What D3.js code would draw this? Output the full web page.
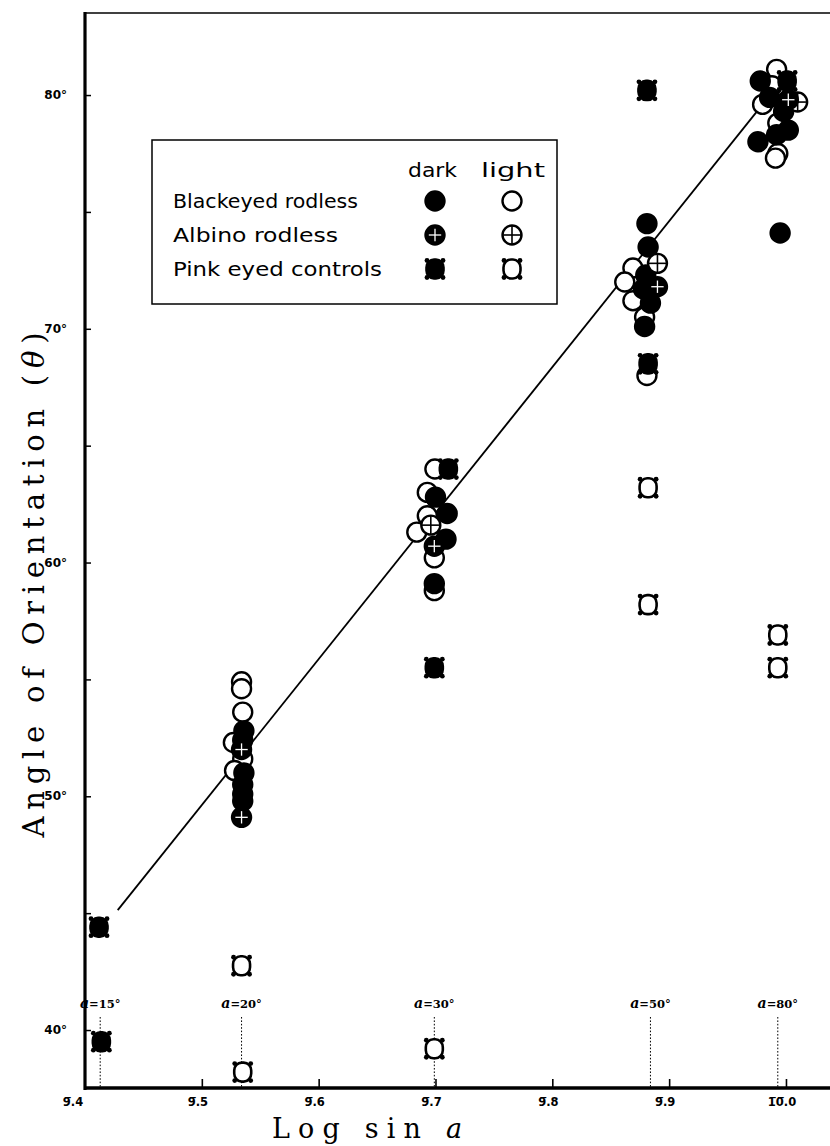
<!DOCTYPE html>
<html><head><meta charset="utf-8">
<script src="https://cdn.jsdelivr.net/npm/d3@7"></script>
<style>body{margin:0;background:#fff}</style>
</head><body>
<svg id="c" width="830" height="1146"></svg>
<script>
// ---------- data ----------
const xTicks = [9.4, 9.5, 9.6, 9.7, 9.8, 9.9, 10.0];
const xTickLabels = ["9\u0305.4", "9\u0305.5", "9\u0305.6", "9\u0305.7", "9\u0305.8", "9\u0305.9", "1\u03050\u0305.0"];
const yMajor = [40, 50, 60, 70, 80];
const yMajorLabels = ["40°", "50°", "60°", "70°", "80°"];
const yMinor = [45, 55, 65, 75];
const angleMarks = [9.413, 9.534, 9.699, 9.884, 9.993];
const angleLabels = ["15°", "20°", "30°", "50°", "80°"];
const fitLine = [[9.428, 45.13], [9.980, 79.6]];

// Blackeyed rodless
const blackDark = [[9.536,52.8],[9.535,52.4],[9.536,51.0],[9.535,50.5],[9.535,50.1],[9.535,49.8],
  [9.700,62.8],[9.710,62.1],[9.709,61.0],[9.699,59.1],
  [9.881,74.5],[9.882,73.5],[9.880,72.3],[9.878,71.7],[9.884,71.1],[9.879,70.1],
  [9.978,80.6],[9.986,79.9],[9.998,79.3],[10.002,78.5],[9.976,78.0],[9.992,78.3],[9.995,74.1]];
const blackLight = [[9.534,54.9],[9.534,54.6],[9.535,53.6],[9.527,52.3],[9.535,51.6],[9.528,51.1],
  [9.6995,64.0],[9.693,63.0],[9.693,62.0],[9.684,61.3],[9.699,60.2],[9.699,58.8],
  [9.869,72.6],[9.862,72.0],[9.869,71.2],[9.879,70.5],[9.881,68.0],
  [9.992,81.1],[9.988,80.4],[9.980,79.6],[9.993,78.8],[9.993,77.5],[9.991,77.3]];
// Albino rodless
const albinoDark = [[9.534,52.0],[9.534,49.1],[9.699,60.7],[9.890,71.8],[10.002,79.8]];
const albinoLight = [[9.696,61.6],[9.890,72.8],[10.010,79.7]];
// Pink eyed controls
const pinkDark = [[9.412,44.4],[9.414,39.5],[9.711,64.0],[9.699,55.5],[9.881,80.2],[9.882,68.5],[10.001,80.6]];
const pinkLight = [[9.534,42.75],[9.535,38.2],[9.699,39.2],[9.882,63.2],[9.882,58.2],[9.993,56.9],[9.993,55.5]];

const legendRows = ["Blackeyed rodless", "Albino rodless", "Pink eyed controls"];

// ---------- chart ----------
const svg = d3.select("#c");
const x = d3.scaleLinear().domain([9.4, 10.04]).range([85, 832.7]);
const y = d3.scaleLinear().domain([37.52, 83.51]).range([1088, 13]);
const R = 9.5;

// frame
svg.append("line").attr("x1", 85).attr("x2", 830).attr("y1", 13).attr("y2", 13)
  .attr("stroke", "#000").attr("stroke-width", 1.6);

// y axis (ticks inside)
const yAx = svg.append("g").attr("transform", "translate(85,0)")
  .call(d3.axisRight(y).tickValues(yMajor.concat(yMinor)).tickSize(6).tickFormat(""));
yAx.select(".domain").remove();
yAx.selectAll("line").attr("stroke-width", 1.5);
svg.append("line").attr("x1", 85).attr("x2", 85).attr("y1", 12).attr("y2", 1090)
  .attr("stroke", "#000").attr("stroke-width", 3.2);
svg.selectAll(".ylab").data(yMajor).enter().append("text")
  .attr("x", 67).attr("y", d => y(d) + 4).attr("text-anchor", "end")
  .attr("font-family", "DejaVu Sans").attr("font-weight", "bold").attr("font-size", 12)
  .text((d, i) => yMajorLabels[i]);

// x axis (ticks inside, pointing up)
const xAx = svg.append("g").attr("transform", "translate(0,1088)")
  .call(d3.axisTop(x).tickValues(xTicks.slice(1)).tickSize(9).tickFormat(""));
xAx.select(".domain").remove();
xAx.selectAll("line").attr("stroke-width", 1.6);
svg.append("line").attr("x1", 84).attr("x2", 830).attr("y1", 1088).attr("y2", 1088)
  .attr("stroke", "#000").attr("stroke-width", 3.5);
svg.selectAll(".xlab").data(xTicks).enter().append("text")
  .attr("x", (d, i) => x(d) - (i === 0 ? 12 : 4)).attr("y", 1106).attr("text-anchor", "middle")
  .attr("font-family", "DejaVu Sans").attr("font-weight", "bold").attr("font-size", 11.5)
  .text((d, i) => xTickLabels[i]);

// angle reference dotted lines and labels
svg.selectAll(".aline").data(angleMarks).enter().append("line")
  .attr("x1", d => x(d)).attr("x2", d => x(d)).attr("y1", 1017).attr("y2", 1087)
  .attr("stroke", "#000").attr("stroke-width", 1).attr("stroke-dasharray", "1.6,1.8");
const alab = svg.selectAll(".alab").data(angleMarks).enter().append("text")
  .attr("x", d => x(d)).attr("y", 1008).attr("text-anchor", "middle")
  .attr("font-family", "DejaVu Serif").attr("font-weight", "bold").attr("font-size", 11.5);
alab.append("tspan").attr("font-style", "italic").attr("font-size", 14).text("a");
alab.append("tspan").text((d, i) => "=" + angleLabels[i]);

// fitted line
svg.append("path").datum(fitLine)
  .attr("d", d3.line().x(d => x(d[0])).y(d => y(d[1])))
  .attr("stroke", "#000").attr("stroke-width", 1.8).attr("fill", "none");

// marker drawing helpers
function drawCircle(g, dark) {
  g.append("circle").attr("r", R).attr("fill", dark ? "#000" : "#fff")
    .attr("stroke", "#000").attr("stroke-width", 2.4);
}
function drawAlbino(g, dark) {
  drawCircle(g, dark);
  const c = dark ? "#fff" : "#000", L = dark ? R * 0.65 : R;
  g.append("line").attr("x1", -L).attr("x2", L).attr("stroke", c).attr("stroke-width", dark ? 1.3 : 1.6);
  g.append("line").attr("y1", -L).attr("y2", L).attr("stroke", c).attr("stroke-width", dark ? 1.3 : 1.6);
}
function drawPink(g, dark) {
  [[-1,-1],[1,-1],[-1,1],[1,1]].forEach(([a,b]) => {
    g.append("circle").attr("cx", a * 8).attr("cy", b * 8.5).attr("r", 2.4).attr("fill", "#000");
  });
  g.append("rect").attr("x", -8.5).attr("y", -9.5).attr("width", 17).attr("height", 19)
    .attr("rx", 7.5).attr("ry", 8).attr("fill", dark ? "#000" : "#fff")
    .attr("stroke", "#000").attr("stroke-width", 2.6);
}
function plot(data, fn, dark) {
  svg.append("g").selectAll("g").data(data).enter().append("g")
    .attr("transform", d => `translate(${x(d[0])},${y(d[1])})`)
    .each(function () { fn(d3.select(this), dark); });
}
plot(blackLight, drawCircle, false);
plot(pinkDark, drawPink, true);
plot(blackDark, drawCircle, true);
plot(albinoLight, drawAlbino, false);
plot(albinoDark, drawAlbino, true);
plot(pinkLight, drawPink, false);

// legend
svg.append("rect").attr("x", 152).attr("y", 140).attr("width", 405).attr("height", 164)
  .attr("fill", "none").attr("stroke", "#000").attr("stroke-width", 1.5);
const lf = "DejaVu Sans";
svg.append("text").attr("x", 408).attr("y", 177).attr("font-family", lf).attr("font-size", 19)
  .attr("textLength", 49).attr("lengthAdjust", "spacingAndGlyphs").text("dark");
svg.append("text").attr("x", 481).attr("y", 177).attr("font-family", lf).attr("font-size", 19)
  .attr("textLength", 64).attr("lengthAdjust", "spacingAndGlyphs").text("light");
const rowY = [201, 235, 269];
const rowLen = [185, 165, 209];
svg.selectAll(".lt").data(legendRows).enter().append("text")
  .attr("x", 173).attr("y", (d, i) => rowY[i] + 7).attr("font-family", lf).attr("font-size", 19)
  .attr("textLength", (d, i) => rowLen[i]).attr("lengthAdjust", "spacingAndGlyphs").text(d => d);
const legFns = [drawCircle, drawAlbino, drawPink];
legFns.forEach((fn, i) => {
  fn(svg.append("g").attr("transform", `translate(435,${rowY[i]})`), true);
  fn(svg.append("g").attr("transform", `translate(512,${rowY[i]})`), false);
});

// axis titles
svg.append("text").attr("transform", "translate(44,585) rotate(-90)")
  .attr("text-anchor", "middle").attr("font-family", "DejaVu Serif").attr("font-size", 29)
  .attr("textLength", 505).attr("lengthAdjust", "spacing")
  .html('Angle of Orientation (<tspan font-style="italic">θ</tspan>)');
const xt = svg.append("text").attr("x", 272).attr("y", 1138)
  .attr("font-family", "DejaVu Serif").attr("font-size", 27)
  .attr("textLength", 190).attr("lengthAdjust", "spacing");
xt.append("tspan").text("Log  sin  ");
xt.append("tspan").attr("font-style", "italic").text("a");
</script>
</body></html>
